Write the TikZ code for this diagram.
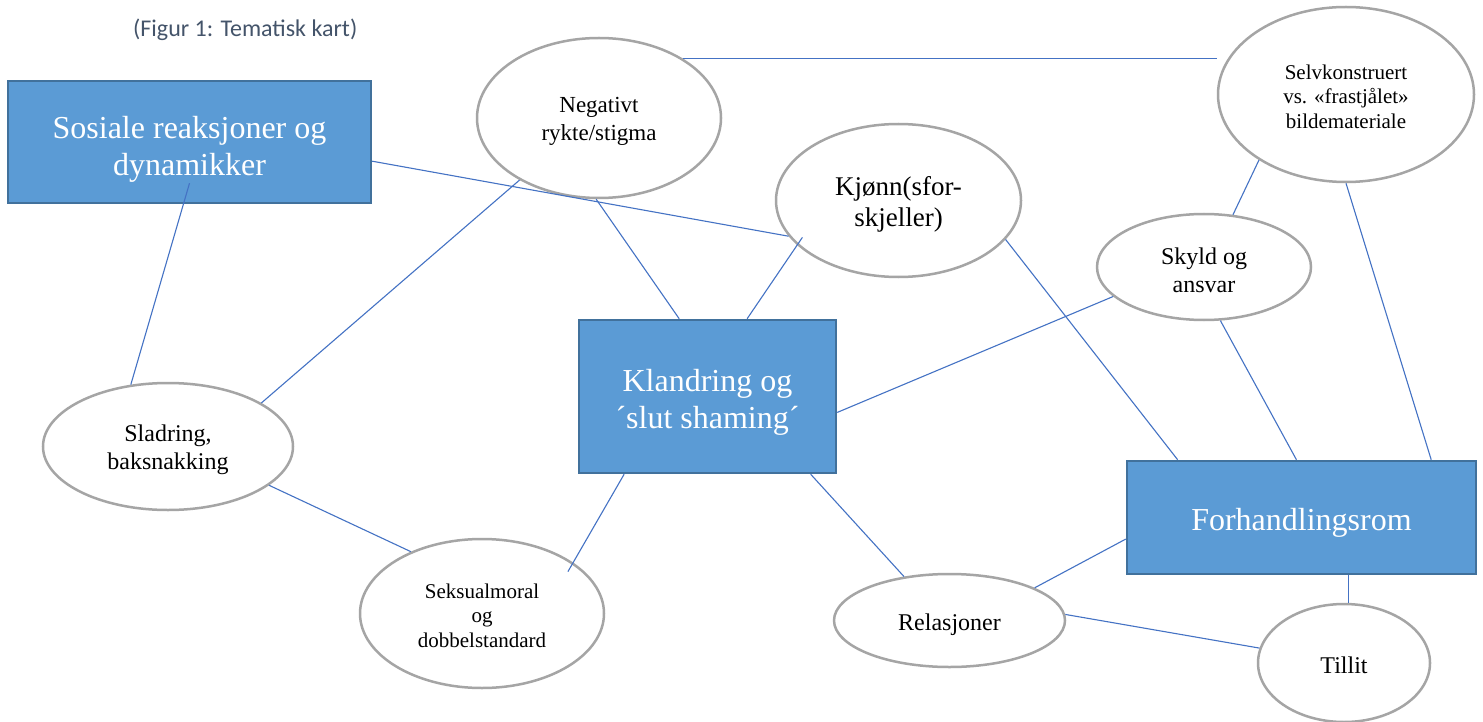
\documentclass[tikz,border=0pt]{standalone}
\usepackage{fontspec}
\setmainfont{Liberation Serif}
\newfontfamily\titlefont{Carlito}
\usetikzlibrary{shapes.geometric,calc}
\definecolor{boxfill}{HTML}{5B9BD5}
\definecolor{boxline}{HTML}{41719C}
\definecolor{ellline}{HTML}{A5A5A5}
\definecolor{conn}{HTML}{4472C4}
\definecolor{titlecol}{HTML}{44546A}
\newcommand{\lift}[1]{\rule{0pt}{#1pt}}
\begin{document}
\begin{tikzpicture}[x=1pt,y=-1pt,
  mainbox/.style={rectangle, fill=boxfill, draw=boxline, line width=2.5pt, text=white, align=center, inner sep=0pt, font=\fontsize{32}{37}\selectfont},
  topic/.style={ellipse, fill=white, draw=ellline, line width=2.5pt, align=center, inner sep=0pt},
  link/.style={draw=conn, line width=1.1pt}]
\useasboundingbox[fill=white] (0,0) rectangle (1483,722);

\node[anchor=base west, text=titlecol, font=\titlefont\fontsize{24}{28}\selectfont, inner sep=0pt] (title) at (133,37) {(Figur 1: Tematisk kart)};

\node[mainbox, minimum width=363pt, minimum height=122pt] (sos) at (189.5,142) {\lift{37}Sosiale reaksjoner og\\dynamikker};
\node[mainbox, minimum width=257pt, minimum height=153pt] (kla) at (707.5,396.5) {\lift{34}Klandring og\\´slut shaming´};
\node[mainbox, minimum width=349pt, minimum height=113pt] (forh) at (1301.5,517.5) {\lift{33}Forhandlingsrom};

\node[topic, minimum width=244pt, minimum height=160pt, font=\fontsize{23}{28}\selectfont] (neg) at (599,118) {\lift{21.6}Negativt\\rykte/stigma};
\node[topic, minimum width=245pt, minimum height=153pt, font=\fontsize{27}{31}\selectfont] (kjo) at (898.5,200.5) {\lift{26}Kjønn(sfor-\\skjeller)};
\node[topic, minimum width=256pt, minimum height=175pt, font=\fontsize{21}{24.5}\selectfont] (selv) at (1346,94.5) {\lift{18.3}Selvkonstruert\\vs. «frastjålet»\\bildemateriale};
\node[topic, minimum width=214pt, minimum height=106pt, font=\fontsize{24}{28}\selectfont] (skyld) at (1204,267) {\lift{22.3}Skyld og\\ansvar};
\node[topic, minimum width=250pt, minimum height=127pt, font=\fontsize{24}{28}\selectfont] (slad) at (168,446.5) {\lift{22.3}Sladring,\\baksnakking};
\node[topic, minimum width=244pt, minimum height=149pt, font=\fontsize{21}{24.5}\selectfont] (seks) at (482,613.5) {\lift{18.3}Seksualmoral\\og\\dobbelstandard};
\node[topic, minimum width=231pt, minimum height=93pt, font=\fontsize{24}{28}\selectfont] (rel) at (949.5,620.5) {\lift{24.3}Relasjoner};
\node[topic, minimum width=172pt, minimum height=118pt, font=\fontsize{24}{28}\selectfont] (til) at (1344,663) {\lift{20.3}Tillit};

\draw[link] (neg.35) -- (neg.35 -| selv.west);
\draw[link] (sos.-6.3) -- (kjo.198.7);
\draw[link] ([yshift=21pt]sos.south) -- (slad.121.6);
\draw[link] (neg.218.9) -- (slad.25);
\draw[link] (neg.268.2) -- (kla.110.5);
\draw[link] ($(kjo.center)!0.91!(kjo.201.5)$) -- (kla.63.2);
\draw[link] (kjo.-20.2) -- (forh.155.4);
\draw[link] (selv.217.8) -- (skyld.61.6);
\draw[link] (selv.south) -- (forh.24.1);
\draw[link] (skyld.198.4) -- (kla.-7.3);
\draw[link] (skyld.-73.2) -- (forh.95.1);
\draw[link] (slad.-21.2) -- (seks.139.7);
\draw[link] (kla.223.4) -- ($(seks.center)!0.89!(seks.26)$);
\draw[link] (kla.-37.9) -- (rel.136.8);
\draw[link] (rel.21.9) -- (forh.187);
\draw[link] (rel.3.2) -- (til.170.6);
\draw[link] (forh.-51.3) -- (forh.-51.3 |- til.north);
\end{tikzpicture}
\end{document}
